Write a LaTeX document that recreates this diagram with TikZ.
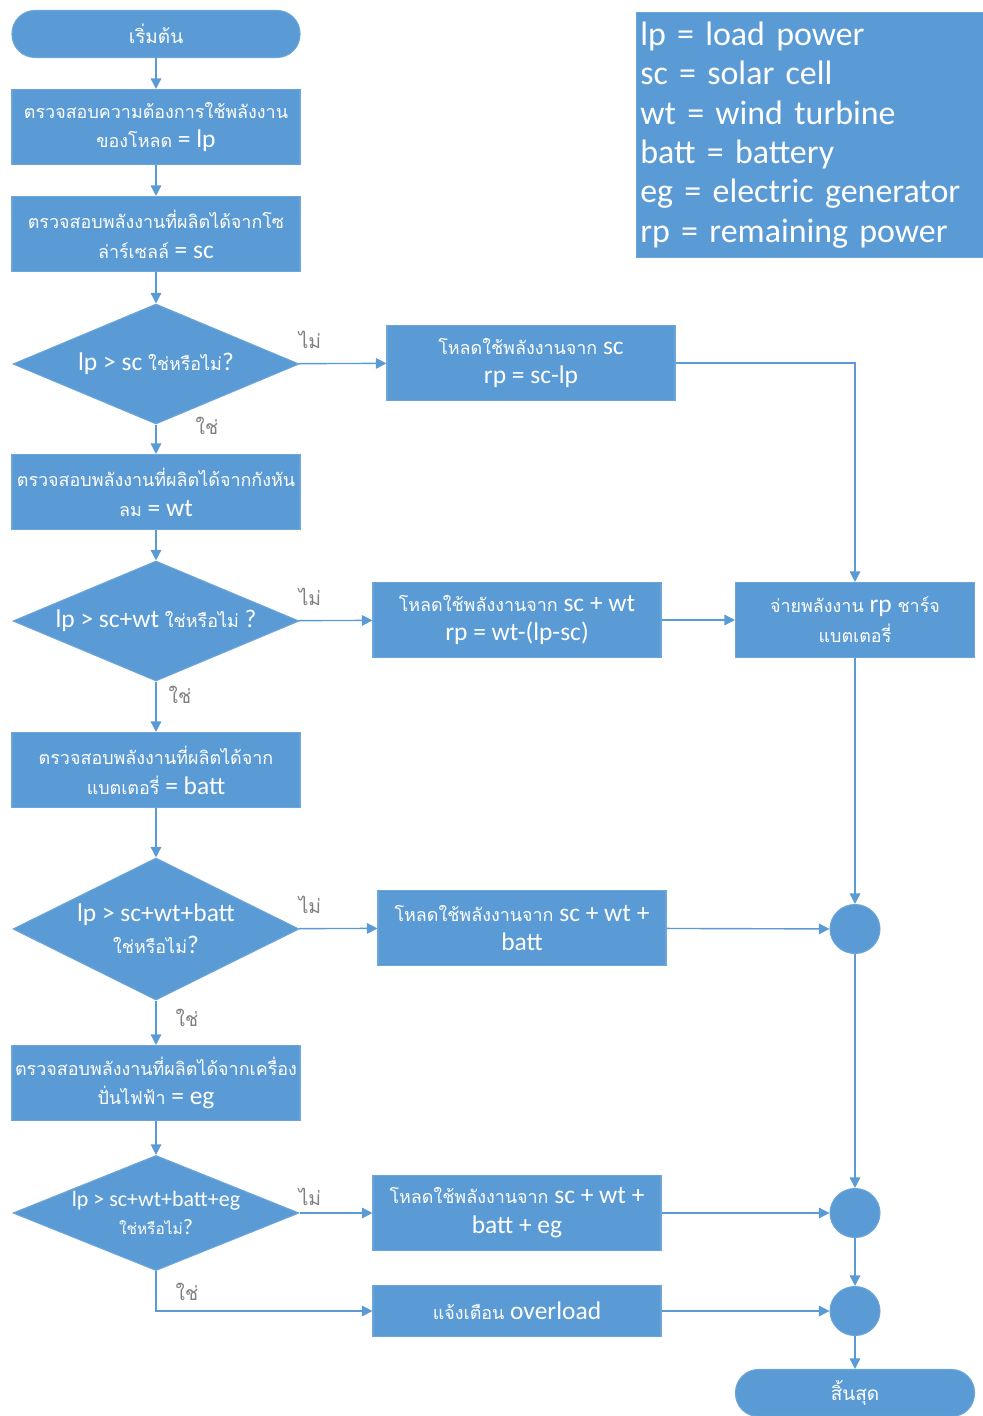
\documentclass[tikz,border=0pt]{standalone}
\usepackage{fontspec}
\setmainfont{Carlito}
\newfontfamily\thai[Script=Thai]{Loma}
\newcommand{\thtxt}[1]{{\thai\fontsize{10.2}{17}\selectfont #1}}
\newcommand{\thsmall}[1]{{\thai\fontsize{8.8}{15}\selectfont #1}}
\usetikzlibrary{shapes.geometric,arrows.meta}
\definecolor{flowblue}{HTML}{5B9BD5}
\definecolor{labelgray}{HTML}{808080}
\tikzset{
  shapebase/.style={fill=flowblue, draw=flowblue!90!white, line width=0.6pt, text=white, align=center, inner sep=1pt},
  procbox/.style={shapebase, rectangle, minimum width=288*0.02cm, minimum height=75*0.02cm,
    font=\fontsize{14.5}{17}\selectfont},
  decision/.style={shapebase, diamond, aspect=2.35, minimum width=286*0.02cm, minimum height=120*0.02cm, inner sep=0pt,
    font=\fontsize{14.5}{18}\selectfont},
  terminal/.style={shapebase, rectangle, rounded corners=23*0.02cm, minimum height=47*0.02cm,
    font=\fontsize{14.5}{17}\selectfont},
  junction/.style={shapebase, ellipse, minimum width=50*0.02cm, minimum height=49*0.02cm},
  legendbox/.style={shapebase, rectangle, anchor=north west, align=left, inner sep=0pt,
    minimum width=347*0.02cm, minimum height=245*0.02cm, text width=343*0.02cm,
    font=\fontsize{19.3}{22.4}\selectfont},
  arr/.style={draw=flowblue, line width=0.8pt, -{Triangle[length=6pt,width=6pt]}},
  branch/.style={text=labelgray, font=\thai\fontsize{11}{12}\selectfont},
}
\begin{document}
\begin{tikzpicture}[x=0.02cm, y=-0.02cm]
\useasboundingbox (0,0) rectangle (983,1416);

% legend
\node[legendbox] (legend) at (636,12) {\hspace*{1pt}lp = load power\\ \hspace*{1pt}sc = solar cell\\ \hspace*{1pt}wt = wind turbine\\ \hspace*{1pt}batt = battery\\ \hspace*{1pt}eg = electric generator\\ \hspace*{1pt}rp = remaining power};

% main column
\node[terminal, minimum width=288*0.02cm] (start) at (156,34) {{\thai\fontsize{10.8}{14}\selectfont เริ่มต้น}};
\node[procbox] (load) at (156,127) {\thtxt{ตรวจสอบความต้องการใช้พลังงาน}\\\thtxt{ของโหลด} = lp};
\node[procbox] (solar) at (156,234) {\thtxt{ตรวจสอบพลังงานที่ผลิตได้จากโซ}\\\thtxt{ล่าร์เซลล์} = sc};
\node[decision] (d1) at (156,364) {lp > sc \thtxt{ใช่หรือไม่}?};
\node[procbox] (wind) at (156,492) {\thtxt{ตรวจสอบพลังงานที่ผลิตได้จากกังหัน}\\\thtxt{ลม} = wt};
\node[decision] (d2) at (156,621) {lp > sc+wt \thtxt{ใช่หรือไม่} ?};
\node[procbox] (batt) at (156,770) {\thtxt{ตรวจสอบพลังงานที่ผลิตได้จาก}\\\thtxt{แบตเตอรี่} = batt};
\node[decision, minimum height=142*0.02cm] (d3) at (156,929) {lp > sc+wt+batt\\\thtxt{ใช่หรือไม่}?};
\node[decision, minimum height=114*0.02cm, font=\fontsize{12.5}{16}\selectfont] (d4) at (156,1213) {lp > sc+wt+batt+eg\\\thsmall{ใช่หรือไม่}?};
\node[procbox] (gen) at (156,1083) {\thtxt{ตรวจสอบพลังงานที่ผลิตได้จากเครื่อง}\\\thtxt{ปั่นไฟฟ้า} = eg};

% right-hand actions
\node[procbox] (use1) at (531,363) {\thtxt{โหลดใช้พลังงานจาก} sc\\rp = sc-lp};
\node[procbox] (use2) at (517,620) {\thtxt{โหลดใช้พลังงานจาก} sc + wt\\rp = wt-(lp-sc)};
\node[procbox, minimum width=239*0.02cm] (charge) at (855,620) {\thtxt{จ่ายพลังงาน} rp \thtxt{ชาร์จ}\\\thtxt{แบตเตอรี่}};
\node[procbox] (use3) at (522,928) {\thtxt{โหลดใช้พลังงานจาก} sc + wt +\\batt};
\node[procbox] (use4) at (517,1213) {\thtxt{โหลดใช้พลังงานจาก} sc + wt +\\batt + eg};
\node[procbox, minimum height=51*0.02cm] (warn) at (517,1311) {\thtxt{แจ้งเตือน} overload};

% junctions and end
\node[junction] (j1) at (855,929) {};
\node[junction] (j2) at (855,1213) {};
\node[junction] (j3) at (855,1311) {};
\node[terminal, minimum width=239*0.02cm] (stop) at (855,1393) {{\thai\fontsize{10.8}{14}\selectfont สิ้นสุด}};

% flow
\draw[arr] (start) -- (load);
\draw[arr] (load) -- (solar);
\draw[arr] (solar) -- (d1);
\draw[arr] (d1) -- (wind);
\draw[arr] (d1) -- (use1);
\draw[arr] (use1.east) -| (charge.north);
\draw[arr] (wind) -- (d2);
\draw[arr] (d2) -- (use2);
\draw[arr] (use2) -- (charge);
\draw[arr] (d2) -- (batt);
\draw[arr] (charge) -- (j1);
\draw[arr] (batt) -- (d3);
\draw[arr] (d3) -- (use3);
\draw[arr] (use3) -- (j1);
\draw[arr] (d3) -- (gen);
\draw[arr] (j1) -- (j2);
\draw[arr] (gen) -- (d4);
\draw[arr] (d4) -- (use4);
\draw[arr] (use4) -- (j2);
\draw[arr] (d4.south) |- (warn.west);
\draw[arr] (j2) -- (j3);
\draw[arr] (warn) -- (j3);
\draw[arr] (j3) -- (stop);

% branch labels
\node[branch] (no1) at (310,340) {ไม่};
\node[branch] (yes1) at (207,426) {ใช่};
\node[branch] (no2) at (310,597) {ไม่};
\node[branch] (yes2) at (180,695) {ใช่};
\node[branch] (no3) at (310,905) {ไม่};
\node[branch] (yes3) at (187,1018) {ใช่};
\node[branch] (no4) at (310,1197) {ไม่};
\node[branch] (yes4) at (187,1292) {ใช่};
\end{tikzpicture}
\end{document}
